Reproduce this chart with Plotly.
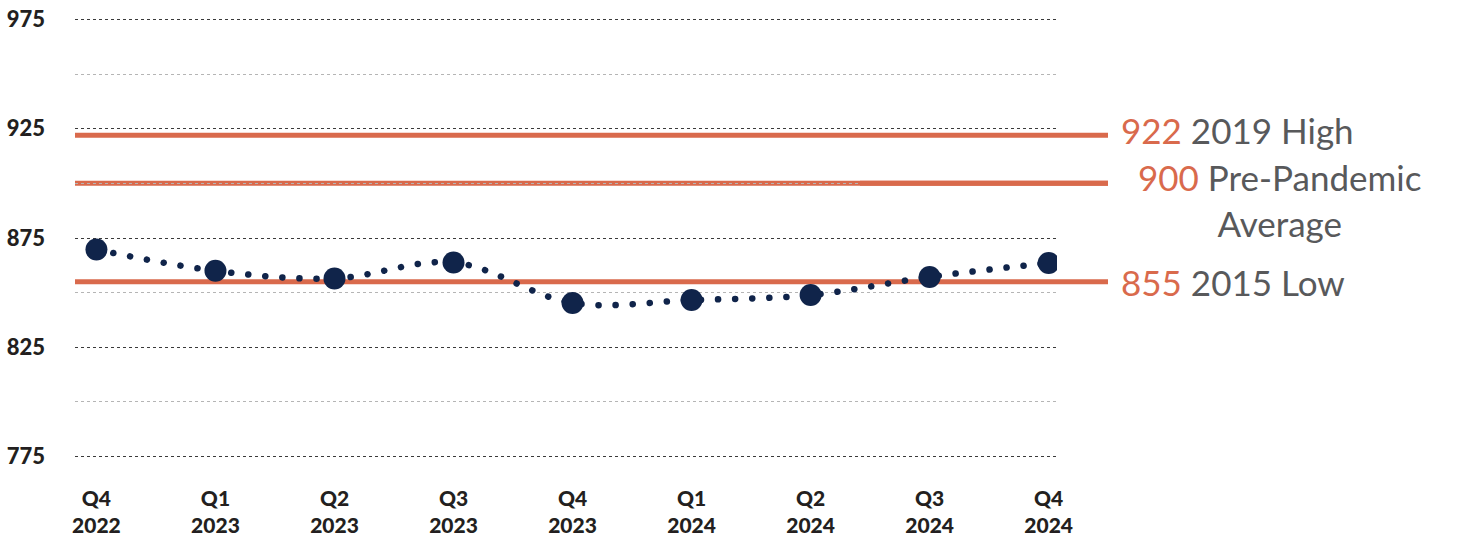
import plotly.graph_objects as go

# ---- data ----
quarters = ["Q4<br>2022", "Q1<br>2023", "Q2<br>2023", "Q3<br>2023", "Q4<br>2023",
            "Q1<br>2024", "Q2<br>2024", "Q3<br>2024", "Q4<br>2024"]
values = [869.7, 860.0, 856.5, 863.8, 845.3, 846.6, 848.9, 857.2, 863.6]

ref_values = [922, 900, 855]
ref_numbers = ["922", "900", "855"]
ref_labels = ["2019 High", "Pre-Pandemic<br>Average", "2015 Low"]

y_ticks = [775, 825, 875, 925, 975]

# ---- style ----
NAVY = "#10244a"
ORANGE = "#d96a4c"
GREY_TEXT = "#58595b"
FONT = "Lato"

L, R, T, B = 75, 402, 15, 78
W, H = 1459, 539
plot_w = W - L - R
plot_h = H - T - B

fig = go.Figure()
fig.add_trace(go.Scatter(
    x=list(range(len(quarters))), y=values,
    mode="lines+markers",
    line=dict(color=NAVY, width=6.5, shape="spline", dash="0px,17px"),
    marker=dict(color=NAVY, size=22),
    hoverinfo="skip", showlegend=False,
))

shapes = []
annotations = []
x_end = (1108 - L) / plot_w
x_cut = (860 - L) / plot_w
yshifts = [5, -17, 0]
for v, num, lab, ys in zip(ref_values, ref_numbers, ref_labels, yshifts):
    shapes.append(dict(type="line", xref="paper", yref="y", x0=0, x1=x_end,
                       y0=v, y1=v, line=dict(color=ORANGE, width=5), layer="between"))
    if "<br>" in lab:
        # gridline shows through only on the left part of this line
        shapes.append(dict(type="line", xref="paper", yref="y", x0=x_cut, x1=x_end,
                           y0=v, y1=v, line=dict(color=ORANGE, width=5), layer="above"))
        first, second = lab.split("<br>")
        text = (f"<span style='color:{ORANGE}'>{num}</span> {first}<br>{second}")
        annotations.append(dict(xref="paper", yref="y", x=(1279 - L) / plot_w, y=v,
                                xanchor="center", yanchor="middle", yshift=ys,
                                align="center", showarrow=False, text=text,
                                font=dict(family=FONT, size=35, color=GREY_TEXT)))
    else:
        text = f"<span style='color:{ORANGE}'>{num}</span> {lab}"
        annotations.append(dict(xref="paper", yref="y", x=(1119 - L) / plot_w, y=v,
                                xanchor="left", yanchor="middle", yshift=ys,
                                align="left", showarrow=False, text=text,
                                font=dict(family=FONT, size=35, color=GREY_TEXT)))

fig.update_layout(
    width=W, height=H,
    margin=dict(l=L, r=R, t=T, b=B, pad=0, autoexpand=False),
    paper_bgcolor="white", plot_bgcolor="white",
    shapes=shapes, annotations=annotations,
    xaxis=dict(
        range=[-0.18, 8.07], tickmode="array",
        tickvals=list(range(len(quarters))), ticktext=quarters,
        showgrid=False, zeroline=False, showline=False, ticks="",
        tickfont=dict(family=FONT, size=21, color="#231f20", weight=900),
        ticklabelstandoff=23, fixedrange=True, automargin=False,
    ),
    yaxis=dict(
        range=[773, 977], tickmode="array", tickvals=y_ticks,
        ticktext=[str(t) for t in y_ticks],
        showgrid=True, gridcolor="#3a3a3a", gridwidth=1.3, griddash="dot",
        minor=dict(dtick=25, tick0=775, showgrid=True, gridcolor="#b5b5b5",
                   gridwidth=1.3, griddash="dot"),
        zeroline=False, showline=False, ticks="",
        tickfont=dict(family=FONT, size=22, color="#231f20", weight=900),
        ticklabelstandoff=29, fixedrange=True, automargin=False,
    ),
)

post = """
document.body.style.margin = '0';
document.body.style.overflow = 'hidden';
var gd = document.getElementById('{plot_id}');
function fixDots(){
  gd.querySelectorAll('.scatterlayer .js-line').forEach(function(p){
    p.style.strokeLinecap = 'round';
    p.style.strokeDasharray = '0.1px,17px';
  });
}
fixDots();
gd.on('plotly_afterplot', fixDots);
"""

fig.write_html("out.html", config={"displayModeBar": False}, post_script=post)
